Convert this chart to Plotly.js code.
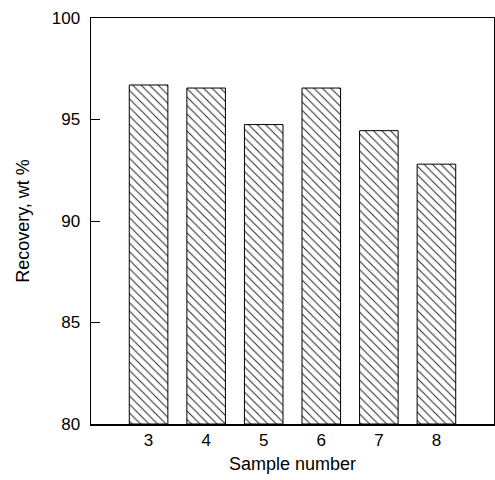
<!DOCTYPE html>
<html>
<head>
<meta charset="utf-8">
<script src="https://cdn.plot.ly/plotly-3.0.1.min.js"></script>
<style>html,body{margin:0;padding:0;background:#fff;}</style>
</head>
<body>
<div id="chart" style="width:495px;height:480px;"></div>
<script>
const samples = [3, 4, 5, 6, 7, 8];
const recovery = [96.7, 96.55, 94.75, 96.55, 94.45, 92.8];
const yTicks = [80, 85, 90, 95, 100];
const xTicks = [3, 4, 5, 6, 7, 8];
const baseValue = 80;

const trace = {
  type: 'bar',
  x: samples,
  y: recovery.map(v => v - baseValue),
  base: baseValue,
  width: 0.67,
  marker: {
    color: 'white',
    line: {color: '#000', width: 1},
    pattern: {shape: '\\', fgcolor: '#222', bgcolor: '#fff', size: 6, solidity: 0.16}
  },
  hoverinfo: 'skip'
};

const layout = {
  width: 495, height: 480,
  margin: {l: 91, r: 1, t: 18, b: 56},
  paper_bgcolor: '#fff', plot_bgcolor: '#fff',
  showlegend: false,
  font: {family: 'Liberation Sans, Arial, sans-serif', color: '#000', size: 18},
  xaxis: {
    range: [2, 9],
    tickvals: xTicks,
    ticktext: xTicks.map(String),
    ticks: '',
    showgrid: false, zeroline: false,
    showline: true, linecolor: '#000', linewidth: 1.5, mirror: true,
    tickfont: {size: 17},
    title: {text: 'Sample number', font: {size: 18}, standoff: 8}
  },
  yaxis: {
    range: [80, 100],
    tickvals: yTicks,
    ticks: 'inside', ticklen: 9, tickcolor: '#000', tickwidth: 1,
    ticklabelstandoff: 6,
    showgrid: false, zeroline: false,
    showline: true, linecolor: '#000', linewidth: 1.5, mirror: true,
    tickfont: {size: 17},
    title: {text: 'Recovery, wt %', font: {size: 18}, standoff: 17}
  }
};

Plotly.newPlot('chart', [trace], layout, {displayModeBar: false, staticPlot: true});
</script>
</body>
</html>
